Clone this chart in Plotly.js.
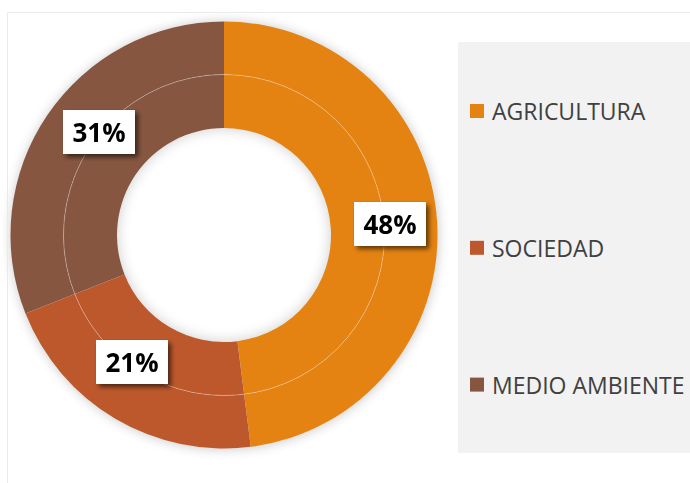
<!DOCTYPE html>
<html>
<head>
<meta charset="utf-8">
<script src="https://cdn.plot.ly/plotly-3.0.1.min.js"></script>
<style>
  html, body { margin: 0; padding: 0; background: #ffffff; }
  #wrap { position: relative; width: 690px; height: 483px; background: #ffffff; }
  #chart { position: absolute; left: 0; top: 0; width: 690px; height: 483px; }
  .shadow { position: absolute; border-radius: 50%; }
</style>
</head>
<body>
<svg width="0" height="0" style="position:absolute">
  <defs>
    <filter id="boxShadow" x="-30%" y="-30%" width="160%" height="160%">
      <feGaussianBlur in="SourceAlpha" stdDeviation="2.5"/>
      <feOffset dx="3" dy="3" result="off"/>
      <feComponentTransfer><feFuncA type="linear" slope="0.6"/></feComponentTransfer>
      <feMerge><feMergeNode/><feMergeNode in="SourceGraphic"/></feMerge>
    </filter>
  </defs>
</svg>
<div id="wrap">
  <div id="outerShadow" class="shadow"></div>
  <div id="innerShadow" class="shadow"></div>
  <div id="chart"></div>
</div>
<script>
// ---- data ----
const categories = ['AGRICULTURA', 'SOCIEDAD', 'MEDIO AMBIENTE'];
const outerValues = [48, 21, 31];
const innerValues = [48, 21, 31];
const percentLabels = ['48%', '21%', '31%'];
const sliceColors = ['#E48312', '#BD582C', '#865640'];

// ---- layout constants (pixels) ----
const W = 690, H = 483;
const CX = 224, CY = 235;
const R_OUT = 213.5, R_MID = 160.5, R_IN = 107;
const R_LABEL = 163;
const LABEL_NUDGE = [[3, -1], [-9.5, -13], [9.5, -11]];
const LEG_SQ_X = 470, LEG_SQ = 14, LEG_TEXT_X = 490, LEG_Y0 = 111, LEG_GAP = 136.8;

const px = x => x / W;
const py = y => 1 - y / H;

// soft shadow behind the doughnut (decoration only)
function placeShadow(id, r, shadow) {
  const el = document.getElementById(id);
  el.style.left = (CX - r) + 'px';
  el.style.top = (CY - r) + 'px';
  el.style.width = (2 * r) + 'px';
  el.style.height = (2 * r) + 'px';
  el.style.boxShadow = shadow;
}
placeShadow('outerShadow', R_OUT - 1, '0 0 12px 1px rgba(0,0,0,0.22)');
placeShadow('innerShadow', R_IN + 1, 'inset 0 0 14px 1px rgba(0,0,0,0.2)');

const outerTrace = {
  type: 'pie',
  labels: categories,
  values: outerValues,
  sort: false,
  direction: 'clockwise',
  rotation: 0,
  hole: R_MID / R_OUT,
  textinfo: 'none',
  marker: { colors: sliceColors, line: { width: 0 } },
  domain: { x: [px(CX - R_OUT), px(CX + R_OUT)], y: [py(CY + R_OUT), py(CY - R_OUT)] },
  showlegend: false,
  name: 'Exterior'
};
const innerTrace = {
  type: 'pie',
  labels: categories,
  values: innerValues,
  sort: false,
  direction: 'clockwise',
  rotation: 0,
  hole: R_IN / R_MID,
  textinfo: 'none',
  marker: { colors: sliceColors, line: { width: 0 } },
  domain: { x: [px(CX - R_MID), px(CX + R_MID)], y: [py(CY + R_MID), py(CY - R_MID)] },
  showlegend: false,
  name: 'Interior'
};

// data labels
const total = outerValues.reduce((a, b) => a + b, 0);
let cum = 0;
const labelAnnotations = outerValues.map((v, i) => {
  const mid = (cum + v / 2) / total * 2 * Math.PI;
  cum += v;
  const x = CX + R_LABEL * Math.sin(mid) + LABEL_NUDGE[i][0];
  const y = CY - R_LABEL * Math.cos(mid) + LABEL_NUDGE[i][1];
  return {
    xref: 'paper', yref: 'paper', x: px(x), y: py(y),
    xanchor: 'center', yanchor: 'middle', showarrow: false,
    text: percentLabels[i],
    font: { family: 'Open Sans, sans-serif', size: 26, color: '#000000', weight: 'bold' },
    bgcolor: '#ffffff', width: 72, height: 44, borderpad: 0, borderwidth: 0,
    align: 'center', valign: 'middle'
  };
});

// legend entries
const legendAnnotations = categories.map((c, i) => ({
  xref: 'paper', yref: 'paper', x: px(LEG_TEXT_X), y: py(LEG_Y0 + i * LEG_GAP),
  xanchor: 'left', yanchor: 'middle', showarrow: false,
  text: c,
  font: { family: 'Open Sans, sans-serif', size: 23, color: '#404040' }
}));
const legendSquares = categories.map((c, i) => ({
  type: 'rect', xref: 'paper', yref: 'paper', layer: 'above',
  x0: px(LEG_SQ_X), x1: px(LEG_SQ_X + LEG_SQ),
  y0: py(LEG_Y0 + i * LEG_GAP + LEG_SQ / 2), y1: py(LEG_Y0 + i * LEG_GAP - LEG_SQ / 2),
  fillcolor: sliceColors[i], line: { width: 0 }
}));

const shapes = [
  { type: 'rect', xref: 'paper', yref: 'paper', layer: 'below',
    x0: px(7.5), x1: px(720), y0: py(520), y1: py(12.5),
    fillcolor: 'rgba(0,0,0,0)', line: { color: '#EAEAEA', width: 1 } },
  { type: 'rect', xref: 'paper', yref: 'paper', layer: 'below',
    x0: px(458), x1: px(720), y0: py(453), y1: py(42),
    fillcolor: '#F2F2F2', line: { width: 0 } },
  { type: 'circle', xref: 'paper', yref: 'paper', layer: 'above',
    x0: px(CX - R_MID), x1: px(CX + R_MID), y0: py(CY + R_MID), y1: py(CY - R_MID),
    line: { color: 'rgba(255,255,255,0.28)', width: 1 }, fillcolor: 'rgba(0,0,0,0)' }
].concat(legendSquares);

const layout = {
  width: W, height: H,
  margin: { l: 0, r: 0, t: 0, b: 0 },
  paper_bgcolor: 'rgba(0,0,0,0)',
  plot_bgcolor: 'rgba(0,0,0,0)',
  showlegend: false,
  font: { family: 'Open Sans, sans-serif' },
  shapes: shapes,
  annotations: labelAnnotations.concat(legendAnnotations)
};

Plotly.newPlot('chart', [outerTrace, innerTrace], layout, { staticPlot: true, displayModeBar: false }).then(() => {
  document.querySelectorAll('#chart g.annotation').forEach(g => {
    const idx = +g.getAttribute('data-index');
    if (idx < labelAnnotations.length) g.setAttribute('filter', 'url(#boxShadow)');
  });
});
</script>
</body>
</html>
